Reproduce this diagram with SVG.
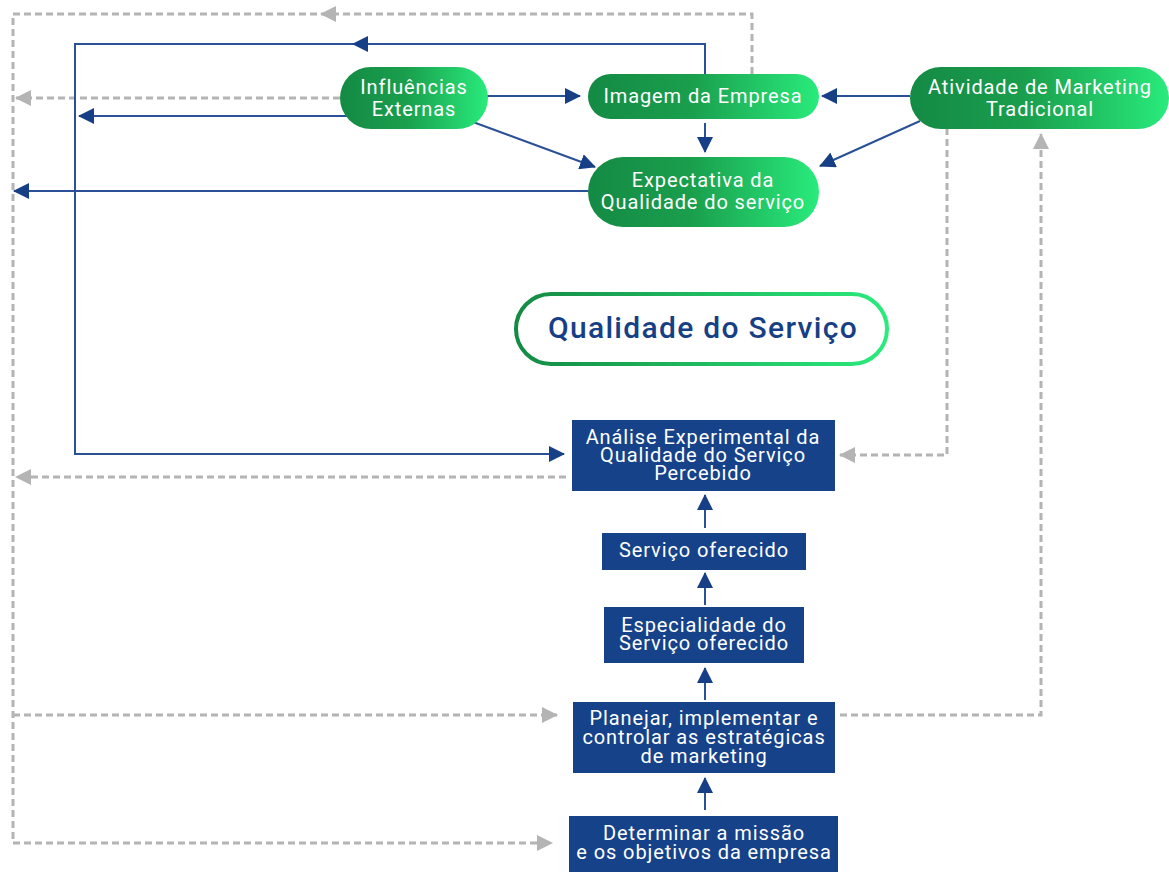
<svg xmlns="http://www.w3.org/2000/svg" width="1169" height="872" viewBox="0 0 1169 872">
  <defs>
    <linearGradient id="pillFill" x1="0" y1="0" x2="1" y2="0">
      <stop offset="0" stop-color="#148a44"/>
      <stop offset="0.45" stop-color="#1a9f4d"/>
      <stop offset="1" stop-color="#29eb7c"/>
    </linearGradient>
    <linearGradient id="ringStroke" x1="0" y1="0" x2="1" y2="0">
      <stop offset="0" stop-color="#148a44"/>
      <stop offset="1" stop-color="#2aeb7c"/>
    </linearGradient>
    <marker id="arrowBlue" markerUnits="userSpaceOnUse" markerWidth="16" markerHeight="16" refX="15" refY="8" orient="auto">
      <path d="M0,0 L16,8 L0,16 z" fill="#173f86"/>
    </marker>
    <marker id="arrowGray" markerUnits="userSpaceOnUse" markerWidth="16" markerHeight="16" refX="15" refY="8" orient="auto">
      <path d="M0,0 L16,8 L0,16 z" fill="#b4b4b4"/>
    </marker>
    <style>
      .pill { fill: url(#pillFill); }
      .box { fill: #16428a; }
      .lbl { font-family: Roboto, "Liberation Sans", sans-serif; font-size: 20px; letter-spacing: 0.9px; fill: #ffffff; text-anchor: middle; }
      .title { font-family: Roboto, "Liberation Sans", sans-serif; font-size: 30px; font-weight: 500; fill: #173f86; text-anchor: middle; letter-spacing: 1.3px; }
      .blue { fill: none; stroke: #2a5198; stroke-width: 2; }
      .gray { fill: none; stroke: #b4b4b4; stroke-width: 3; stroke-dasharray: 7 4; }
      .ahBlue { fill: #173f86; }
      .ahGray { fill: #b4b4b4; }
    </style>
  </defs>

  <rect width="1169" height="872" fill="#ffffff"/>

  <!-- connectors -->
  <g id="connectors">
    <!-- dashed feedback loops -->
    <path class="gray" d="M752,74 V14 H13 V843 H552" marker-end="url(#arrowGray)"/>
    <polygon class="ahGray" points="320,14 336,6 336,22"/>
    <path class="gray" d="M340,98 H16" marker-end="url(#arrowGray)"/>
    <path class="gray" d="M566,477 H16" marker-end="url(#arrowGray)"/>
    <path class="gray" d="M13,715 H557" marker-end="url(#arrowGray)"/>
    <path class="gray" d="M947,128 V455 H840" marker-end="url(#arrowGray)"/>
    <path class="gray" d="M840,715 H1041 V134" marker-end="url(#arrowGray)"/>

    <!-- solid links -->
    <path class="blue" d="M705,74 V44 H75 V454 H564" marker-end="url(#arrowBlue)"/>
    <polygon class="ahBlue" points="352,44 368,36 368,52"/>
    <path class="blue" d="M348,116 H79" marker-end="url(#arrowBlue)"/>
    <path class="blue" d="M590,191 H14" marker-end="url(#arrowBlue)"/>
    <path class="blue" d="M487,96 H580" marker-end="url(#arrowBlue)"/>
    <path class="blue" d="M473,122 L595,167" marker-end="url(#arrowBlue)"/>
    <path class="blue" d="M705,123 V152" marker-end="url(#arrowBlue)"/>
    <path class="blue" d="M910,96 H822" marker-end="url(#arrowBlue)"/>
    <path class="blue" d="M920,121 L820,166" marker-end="url(#arrowBlue)"/>
    <path class="blue" d="M705,528 V495" marker-end="url(#arrowBlue)"/>
    <path class="blue" d="M705,605 V573" marker-end="url(#arrowBlue)"/>
    <path class="blue" d="M705,700 V668" marker-end="url(#arrowBlue)"/>
    <path class="blue" d="M705,810 V778" marker-end="url(#arrowBlue)"/>
  </g>

  <g id="influencias-externas">
    <rect class="pill" x="340" y="67" width="148" height="62" rx="31"/>
    <text class="lbl" x="414" y="94">Influências</text>
    <text class="lbl" x="414" y="116">Externas</text>
  </g>

  <g id="imagem-empresa">
    <rect class="pill" x="588" y="74" width="231" height="45" rx="22.5"/>
    <text class="lbl" x="703" y="103">Imagem da Empresa</text>
  </g>

  <g id="atividade-marketing">
    <rect class="pill" x="910" y="67" width="259" height="62" rx="31"/>
    <text class="lbl" x="1040" y="94">Atividade de Marketing</text>
    <text class="lbl" x="1040" y="116">Tradicional</text>
  </g>

  <g id="expectativa-qualidade">
    <rect class="pill" x="588" y="157" width="231" height="70" rx="35"/>
    <text class="lbl" x="703" y="187">Expectativa da</text>
    <text class="lbl" x="703" y="209">Qualidade do serviço</text>
  </g>

  <g id="qualidade-servico">
    <rect x="516" y="294" width="371" height="70" rx="35" fill="#ffffff" stroke="url(#ringStroke)" stroke-width="4"/>
    <text class="title" x="703" y="338">Qualidade do Serviço</text>
  </g>

  <g id="analise-experimental">
    <rect class="box" x="572" y="420" width="263" height="71"/>
    <text class="lbl" x="703" y="444">Análise Experimental da</text>
    <text class="lbl" x="703" y="462">Qualidade do Serviço</text>
    <text class="lbl" x="703" y="480">Percebido</text>
  </g>

  <g id="servico-oferecido">
    <rect class="box" x="602" y="533" width="204" height="37"/>
    <text class="lbl" x="704" y="557">Serviço oferecido</text>
  </g>

  <g id="especialidade">
    <rect class="box" x="604" y="607" width="200" height="56"/>
    <text class="lbl" x="704" y="632">Especialidade do</text>
    <text class="lbl" x="704" y="650">Serviço oferecido</text>
  </g>

  <g id="planejar">
    <rect class="box" x="573" y="702" width="262" height="71"/>
    <text class="lbl" x="704" y="725">Planejar, implementar e</text>
    <text class="lbl" x="704" y="744">controlar as estratégicas</text>
    <text class="lbl" x="704" y="763">de marketing</text>
  </g>

  <g id="determinar">
    <rect class="box" x="569" y="816" width="269" height="56"/>
    <text class="lbl" x="704" y="840">Determinar a missão</text>
    <text class="lbl" x="704" y="859">e os objetivos da empresa</text>
  </g>
</svg>
